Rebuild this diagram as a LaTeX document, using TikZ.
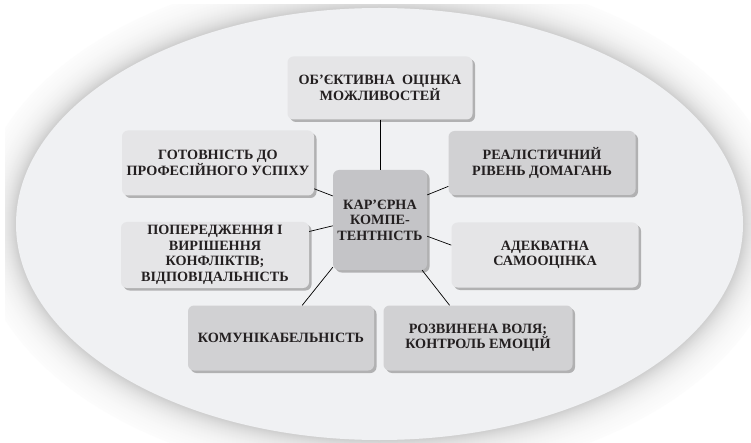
\documentclass[tikz,border=0pt]{standalone}
\usepackage{fontspec}
\setmainfont{Liberation Serif}
\usetikzlibrary{shadows}
\definecolor{txt}{HTML}{231F20}
\definecolor{lightbox}{HTML}{E5E5E7}
\definecolor{darkbox}{HTML}{D1D1D3}
\definecolor{centerbox}{HTML}{C4C4C7}
\definecolor{ellfill}{HTML}{F0F1F3}
\tikzset{
  box/.style={rectangle, rounded corners=6pt, align=center, inner sep=2pt,
    font=\fontsize{14.2}{15.6}\selectfont\bfseries, text=txt,
    drop shadow={shadow xshift=2.5pt, shadow yshift=-2.5pt, fill=black!55, opacity=0.5}},
  lbox/.style={box, fill=lightbox},
  dbox/.style={box, fill=darkbox},
  cbox/.style={box, fill=centerbox},
  link/.style={draw=black, line width=0.7pt}
}
\begin{document}
\begin{tikzpicture}[x=1pt,y=-1pt]
\useasboundingbox (0,0) rectangle (751,443);
\fill[white] (0,0) rectangle (751,443);
\begin{scope}
  \clip (5,5) rectangle (751,443);
  \foreach \i in {40,39,...,1}{
    \pgfmathsetmacro\g{20*exp(-\i/14)}
    \fill[black!\g] (379.5,224) ellipse [x radius=363.5+\i, y radius=216+\i];
  }
  \fill[ellfill] (379.5,224) ellipse [x radius=363.5, y radius=216];
\end{scope}

\node[lbox, minimum width=185pt, minimum height=63pt] (ob) at (380,88) {ОБ’ЄКТИВНА\ \ ОЦІНКА\\МОЖЛИВОСТЕЙ};
\node[lbox, minimum width=192pt, minimum height=65pt] (got) at (218,163) {ГОТОВНІСТЬ ДО\\ПРОФЕСІЙНОГО УСПІХУ};
\node[dbox, minimum width=187pt, minimum height=64pt] (real) at (542,163) {РЕАЛІСТИЧНИЙ\\РІВЕНЬ ДОМАГАНЬ};
\node[cbox, minimum width=94pt, minimum height=100pt] (c) at (380,220) {КАР’ЄРНА\\КОМПЕ-\\ТЕНТНІСТЬ};
\node[lbox, minimum width=188pt, minimum height=66pt] (pop) at (215,255) {ПОПЕРЕДЖЕННЯ І\\ВИРІШЕННЯ\\КОНФЛІКТІВ;\\ВІДПОВІДАЛЬНІСТЬ};
\node[lbox, minimum width=187pt, minimum height=65pt] (adek) at (545,255) {АДЕКВАТНА\\САМООЦІНКА};
\node[dbox, minimum width=186pt, minimum height=65pt] (kom) at (281,338) {КОМУНІКАБЕЛЬНІСТЬ};
\node[dbox, minimum width=189pt, minimum height=65pt] (roz) at (478,338) {РОЗВИНЕНА ВОЛЯ;\\КОНТРОЛЬ ЕМОЦІЙ};

\draw[link] (ob.south) -- (c.north);
\draw[link] (got.-15) -- (c.153);
\draw[link] (real.194) -- (c.28);
\draw[link] (pop.14) -- (c.187);
\draw[link] (adek.174) -- (c.-19);
\draw[link] (kom.57) -- (c.225);
\draw[link] (roz.131) -- (c.-50);
\end{tikzpicture}
\end{document}
